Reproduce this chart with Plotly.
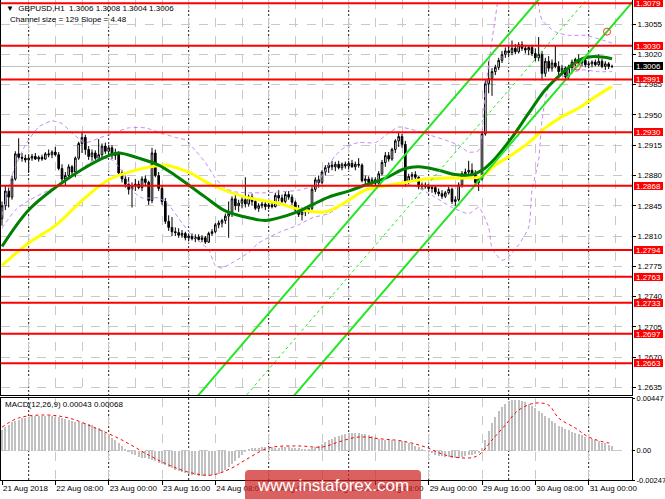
import plotly.graph_objects as go

# ---------------- DATA (prices x 10000) ----------------
bars = list(range(184))
opens = [12830,12845,12862,12855,12876,12905,12901,12900,12898,12900,
         12902,12899,12901,12899,12905,12904,12907,12904,12888,12876,
         12880,12890,12884,12900,12917,12924,12910,12902,12906,12900,
         12904,12914,12908,12912,12903,12906,12883,12876,12870,12864,
         12868,12870,12866,12876,12872,12851,12906,12880,12865,12850,
         12827,12820,12815,12814,12811,12813,12808,12810,12807,12809,
         12806,12808,12803,12813,12815,12823,12825,12828,12833,12836,
         12853,12845,12848,12852,12847,12855,12850,12842,12845,12847,
         12844,12846,12844,12857,12854,12850,12858,12855,12849,12840,
         12835,12838,12840,12842,12864,12875,12872,12884,12889,12892,
         12890,12893,12889,12893,12891,12894,12890,12893,12892,12874,
         12876,12872,12875,12871,12882,12895,12903,12899,12910,12920,
         12925,12916,12872,12879,12881,12878,12867,12869,12867,12865,
         12866,12861,12859,12856,12860,12864,12850,12852,12869,12882,
         12884,12886,12882,12872,12876,12928,12986,12992,13000,13005,
         13013,13020,13024,13022,13027,13023,13031,13027,13025,13028,
         13021,13016,13020,12998,13012,13004,13010,13006,13000,13004,
         12994,13005,13011,13014,13010,13013,13008,13009,13011,13008,
         13012,13006,13009,13006]
highs = [12850,12868,12866,12880,12908,12923,12906,12904,12903,12905,
         12906,12903,12904,12907,12910,12909,12913,12907,12893,12884,
         12893,12892,12902,12919,12930,12927,12914,12910,12909,12922,
         12917,12918,12915,12915,12911,12908,12886,12880,12878,12872,
         12876,12874,12879,12880,12874,12912,12910,12884,12868,12854,
         12834,12832,12820,12819,12817,12815,12813,12813,12812,12812,
         12811,12810,12815,12818,12825,12828,12830,12836,12850,12856,
         12858,12852,12855,12878,12858,12859,12852,12848,12850,12850,
         12849,12850,12860,12863,12858,12861,12862,12858,12851,12846,
         12843,12844,12845,12867,12878,12880,12886,12892,12895,12897,
         12896,12897,12895,12896,12897,12898,12896,12900,12894,12880,
         12879,12878,12878,12885,12898,12907,12907,12912,12922,12930,
         12928,12920,12882,12884,12885,12879,12872,12872,12870,12869,
         12868,12865,12863,12862,12867,12866,12856,12872,12885,12888,
         12897,12894,12886,12878,12930,12990,13012,13004,13008,13016,
         13024,13028,13029,13036,13032,13034,13035,13031,13030,13031,
         13027,13040,13024,13016,13018,13014,13030,13012,13008,13006,
         13008,13014,13016,13020,13016,13016,13012,13013,13014,13020,
         13015,13012,13011,13008]
lows = [12822,12840,12843,12852,12874,12898,12896,12895,12883,12897,
        12898,12896,12897,12898,12901,12900,12902,12886,12870,12868,
        12878,12880,12878,12898,12906,12904,12898,12897,12898,12898,
        12900,12905,12902,12899,12898,12880,12872,12866,12858,12843,
        12862,12864,12862,12868,12846,12848,12878,12862,12846,12824,
        12816,12810,12810,12808,12808,12805,12804,12805,12803,12804,
        12803,12801,12802,12810,12813,12819,12820,12824,12808,12832,
        12840,12838,12842,12843,12844,12845,12840,12838,12842,12840,
        12841,12842,12843,12850,12847,12848,12852,12846,12836,12832,
        12828,12833,12836,12840,12861,12866,12870,12880,12883,12886,
        12885,12887,12886,12888,12887,12889,12886,12889,12872,12870,
        12869,12869,12868,12869,12880,12890,12896,12897,12906,12913,
        12912,12867,12870,12874,12875,12864,12864,12865,12862,12860,
        12858,12856,12853,12854,12858,12847,12845,12850,12866,12878,
        12880,12879,12868,12862,12874,12926,12975,12972,12996,13002,
        13010,13016,13017,13019,13020,13021,13024,13021,13019,13018,
        13012,13012,12990,12994,13000,13000,13004,12996,12996,12990,
        12991,12998,13006,13008,13006,13005,13004,13005,13006,13006,
        13004,13002,13003,13004]
closes = [12845,12862,12855,12876,12905,12901,12900,12898,12900,12902,
          12899,12901,12899,12905,12904,12907,12904,12888,12876,12880,
          12890,12884,12900,12917,12924,12910,12902,12906,12900,12904,
          12914,12908,12912,12903,12906,12883,12876,12870,12864,12868,
          12870,12866,12876,12872,12851,12906,12880,12865,12850,12827,
          12820,12815,12814,12811,12813,12808,12810,12807,12809,12806,
          12808,12803,12813,12815,12823,12825,12828,12833,12836,12853,
          12845,12848,12852,12847,12855,12850,12842,12845,12847,12844,
          12846,12844,12857,12854,12850,12858,12855,12849,12840,12835,
          12838,12840,12842,12864,12875,12872,12884,12889,12892,12890,
          12893,12889,12893,12891,12894,12890,12893,12892,12874,12876,
          12872,12875,12871,12882,12895,12903,12899,12910,12920,12925,
          12916,12872,12879,12881,12878,12867,12869,12867,12865,12866,
          12861,12859,12856,12860,12864,12850,12852,12869,12882,12884,
          12886,12882,12872,12876,12928,12986,12992,13000,13005,13013,
          13020,13024,13022,13027,13023,13031,13027,13025,13028,13021,
          13016,13020,12998,13012,13004,13010,13006,13000,13004,12994,
          13005,13011,13014,13010,13013,13008,13009,13011,13008,13012,
          13006,13009,13006,13006]

green_ma_bars = [0, 8, 16, 24, 32, 35, 41, 47, 52, 56, 61, 67, 73, 79, 83, 88, 93, 98, 104,
                 109, 115, 121, 125, 131, 136, 141, 144, 148, 153, 158, 163, 168, 173, 176, 180, 183]
green_ma_vals = [12798, 12840, 12866, 12887, 12903, 12906, 12900, 12892, 12880, 12869, 12855,
                 12839, 12832, 12828, 12831, 12837, 12846, 12855, 12862, 12869, 12877, 12888,
                 12890, 12886, 12881, 12881, 12886, 12900, 12924, 12952, 12979, 12998, 13013,
                 13017, 13017, 13015]
yellow_ma_bars = [0, 8, 16, 24, 32, 40, 46, 49, 53, 56, 63, 73, 83, 88, 97, 103, 109, 115, 121,
                  127, 133, 139, 144, 148, 153, 158, 163, 168, 173, 178, 183]
yellow_ma_vals = [12776, 12802, 12822, 12851, 12875, 12886, 12891, 12892, 12888, 12884, 12869,
                  12855, 12848, 12842, 12838, 12849, 12863, 12868, 12872, 12876, 12877, 12877,
                  12879, 12892, 12904, 12918, 12935, 12948, 12958, 12971, 12983]
bb_up_bars = [0, 3, 7, 11, 15, 18, 21, 25, 29, 34, 38, 43, 47, 52, 55, 58, 61, 64, 67, 70, 74,
              79, 83, 89, 94, 97, 100, 103, 107, 112, 116, 119, 124, 128, 133, 137, 140, 143,
              145, 147, 149, 151, 154, 157, 160, 162, 166, 170, 175, 178, 183]
bb_up_vals = [12834, 12880, 12915, 12936, 12943, 12940, 12929, 12918, 12923, 12930, 12935,
              12935, 12930, 12924, 12921, 12909, 12895, 12877, 12865, 12861, 12860, 12860,
              12861, 12863, 12869, 12886, 12903, 12913, 12918, 12918, 12929, 12936, 12932,
              12927, 12921, 12915, 12907, 12909, 12979, 13036, 13090, 13170, 13200, 13150,
              13100, 13060, 13046, 13042, 13042, 13039, 13033]
bb_lo_bars = [0, 4, 8, 14, 20, 26, 29, 33, 37, 39, 42, 47, 50, 54, 57, 62, 64, 66, 69, 74, 77,
              83, 89, 93, 98, 102, 107, 113, 119, 123, 129, 135, 140, 143, 146, 147, 150, 152,
              155, 158, 159, 161, 162, 164, 168, 174, 179, 183]
bb_lo_vals = [12819, 12840, 12851, 12863, 12875, 12894, 12900, 12898, 12880, 12863, 12854,
              12854, 12846, 12825, 12811, 12794, 12776, 12773, 12779, 12791, 12802, 12814,
              12823, 12831, 12836, 12846, 12860, 12867, 12869, 12869, 12857, 12843, 12836,
              12843, 12820, 12796, 12782, 12786, 12800, 12820, 12863, 12898, 12944, 12982,
              12994, 13002, 13000, 13000]

# MACD main (histogram) x 1e-5
macd_hist = [180, 200, 220, 240, 255,
             265, 275, 282, 288, 292, 295, 297, 298, 298, 296, 293, 290, 286,
             280, 272, 262, 252, 245, 240, 238, 233, 226, 218,
             205, 190, 172, 153, 132, 110, 88, 64, 38, 12,
             -10, -25, -38, -50,
             -58, -62, -68, -78, -90, -100, -110,
             -122, -135, -148, -160, -172, -182, -190, -197, -203,
             -207, -210, -212, -213, -212, -208, -202,
             -192, -178, -160, -138, -112, -85, -58, -32,
             -10, 8, 20, 26,
             28, 30, 31, 30, 29, 28, 28, 30, 31, 30, 27, 24, 20, 18, 17, 18, 22, 30, 42, 56,
             72, 88, 103, 116, 127, 136, 143, 148, 151, 152, 150, 146, 140, 132, 122, 112, 100, 90,
             92, 90, 88, 86, 84, 80, 75, 68, 58, 45, 30, 15, 2,
             -10, -22, -32, -40, -46, -50, -54, -58, -60, -58, -52, -45, -38, -32, -28, -18,
             20, 95, 170, 235, 290, 335, 372, 400, 418, 428, 432, 430, 424, 414, 400, 382, 362,
             340, 318, 296, 274, 252, 232, 214, 198, 184, 172, 160, 150, 140, 130, 120, 110, 100,
             90, 80, 70, 62, 52, 43]
signal_bars = [0, 5, 13, 20, 28, 36, 44, 50, 57, 63, 69, 73, 80, 89, 96, 101, 107, 114, 120,
               127, 133, 140, 143, 147, 151, 155, 160, 164, 167, 172, 176, 182, 183]
signal_vals = [200, 278, 303, 278, 193, 91, -36, -120, -188, -205, -145, -78, 24, 41, 32, 75,
               117, 100, 83, 32, -36, -61, -36, 91, 218, 345, 404, 387, 277, 193, 117, 66, 68]

levels = [1.3079, 1.3030, 1.2991, 1.2930, 1.2868, 1.2794, 1.2763, 1.2733, 1.2697, 1.2663]
price_ticks = [1.3055, 1.3020, 1.2985, 1.2950, 1.2915, 1.2880, 1.2845, 1.2810, 1.2775,
               1.2740, 1.2705, 1.2670, 1.2635]
bid_price = 1.3006
# channel: lower line price at reference bar, slope per bar, size
channel_ref_bar = 130
channel_ref_price = 1.28155
channel_slope = 0.000448
channel_size = 0.0129
channel_bars = [50, 192]
channel_anchor_bars = [172.5, 181.5]

x_tick_bars = [0, 16, 32, 48, 64, 80, 96, 112, 128, 144, 160, 176]
x_tick_labels = ["21 Aug 2018", "22 Aug 08:00", "23 Aug 00:00", "23 Aug 16:00", "24 Aug 08:00",
                 "27 Aug 00:00", "27 Aug 16:00", "28 Aug 08:00", "29 Aug 00:00", "29 Aug 16:00",
                 "30 Aug 08:00", "31 Aug 00:00"]
day_sep_bars = [8, 32, 56, 80, 104, 128, 152, 176]
macd_ticks = [0.00447, 0.0, -0.00247]
macd_tick_labels = ["0.00447", "0.00", "-0.00247"]

assert len(opens) == len(highs) == len(lows) == len(closes) == len(bars) == len(macd_hist)

P = 1e-4
FONT = "Liberation Sans, Arial, sans-serif"
fig = go.Figure()

fig.add_trace(go.Candlestick(
    x=bars, open=[v * P for v in opens], high=[v * P for v in highs],
    low=[v * P for v in lows], close=[v * P for v in closes],
    increasing=dict(line=dict(color="black", width=1), fillcolor="white"),
    decreasing=dict(line=dict(color="black", width=1), fillcolor="black"),
    whiskerwidth=0, showlegend=False, hoverinfo="skip", xaxis="x", yaxis="y"))

for bx, bv in [(bb_up_bars, bb_up_vals), (bb_lo_bars, bb_lo_vals)]:
    fig.add_trace(go.Scatter(x=bx, y=[v * P for v in bv], mode="lines",
                             line=dict(color="#c58af0", width=1, dash="4px,3px", shape="spline", smoothing=0.6),
                             showlegend=False, hoverinfo="skip"))

fig.add_trace(go.Scatter(x=yellow_ma_bars, y=[v * P for v in yellow_ma_vals], mode="lines",
                         line=dict(color="#ffff00", width=3, shape="spline"), showlegend=False, hoverinfo="skip"))
fig.add_trace(go.Scatter(x=green_ma_bars, y=[v * P for v in green_ma_vals], mode="lines",
                         line=dict(color="#008000", width=3, shape="spline"), showlegend=False, hoverinfo="skip"))

def chan(b, off):
    return channel_ref_price + off + channel_slope * (b - channel_ref_bar)

for off, dash, w in [(0, "solid", 2), (channel_size / 2, "dot", 1), (channel_size, "solid", 2)]:
    fig.add_trace(go.Scatter(x=channel_bars, y=[chan(b, off) for b in channel_bars], mode="lines",
                             line=dict(color="#22e622", width=w, dash=dash), showlegend=False, hoverinfo="skip"))
fig.add_trace(go.Scatter(x=channel_anchor_bars, y=[chan(b, 0) for b in channel_anchor_bars], mode="markers",
                         marker=dict(symbol="circle-open", size=7, color="#ff3030", line=dict(width=1)),
                         showlegend=False, hoverinfo="skip"))

# MACD
fig.add_trace(go.Bar(x=bars, y=[v * 1e-5 for v in macd_hist], xaxis="x2", yaxis="y2",
                     marker=dict(color="#c0c0c0", line=dict(width=0)), width=0.6,
                     showlegend=False, hoverinfo="skip"))
fig.add_trace(go.Scatter(x=signal_bars, y=[v * 1e-5 for v in signal_vals], xaxis="x2", yaxis="y2",
                         mode="lines", line=dict(color="#ff0000", width=1, dash="dot", shape="spline"),
                         showlegend=False, hoverinfo="skip"))

shapes = []
for b in day_sep_bars:
    shapes.append(dict(type="line", xref="x", yref="paper", x0=b, x1=b, y0=0, y1=1,
                       line=dict(color="#222222", width=1, dash="2px,2px"), layer="below"))
shapes.append(dict(type="line", xref="paper", yref="y", x0=0, x1=1, y0=bid_price, y1=bid_price,
                   line=dict(color="#c0c0c0", width=1), layer="below"))
for lv in levels:
    shapes.append(dict(type="line", xref="paper", yref="y", x0=0, x1=1, y0=lv, y1=lv,
                       line=dict(color="#ff0000", width=2), layer="above"))

# watermark box (paper coords)
x0, x1, y0, y1 = 244 / 631, 420 / 631, -21 / 480, 10 / 480
rx, ry = 4 / 631, 4 / 480
path = (f"M {x0+rx},{y1} L {x1-rx},{y1} Q {x1},{y1} {x1},{y1-ry} L {x1},{y0} L {x0},{y0} "
        f"L {x0},{y1-ry} Q {x0},{y1} {x0+rx},{y1} Z")
shapes.append(dict(type="path", xref="paper", yref="paper", path=path,
                   fillcolor="rgba(205,35,35,0.72)", line=dict(width=0), layer="above"))

annotations = []
for lv in levels:
    annotations.append(dict(x=1, xref="paper", y=lv, yref="y", xanchor="left", yanchor="middle",
                            xshift=2, text=f"{lv:.4f}", showarrow=False, bgcolor="#ff0000",
                            font=dict(color="white", size=8, family=FONT), width=29, height=8,
                            borderpad=0, borderwidth=0))
annotations.append(dict(x=1, xref="paper", y=bid_price, yref="y", xanchor="left", yanchor="middle",
                        xshift=2, text=f"{bid_price:.4f}", showarrow=False, bgcolor="#000000",
                        font=dict(color="white", size=8, family=FONT), width=29, height=8,
                        borderpad=0, borderwidth=0))
annotations.append(dict(x=3 / 631, y=(480 - 8) / 480, xref="paper", yref="paper", xanchor="left",
                        yanchor="middle", showarrow=False,
                        text="\u25bc  GBPUSD,H1  1.3006 1.3008 1.3004 1.3006",
                        font=dict(size=8, color="black", family=FONT)))
annotations.append(dict(x=7 / 631, y=(480 - 20) / 480, xref="paper", yref="paper", xanchor="left",
                        yanchor="middle", showarrow=False, text="Channel size = 129 Slope = 4.48",
                        font=dict(size=8, color="black", family=FONT)))
annotations.append(dict(x=2 / 631, y=(480 - 404) / 480, xref="paper", yref="paper", xanchor="left",
                        yanchor="middle", showarrow=False, text="MACD(12,26,9) 0.00043 0.00068",
                        font=dict(size=8, color="black", family=FONT)))
annotations.append(dict(x=332 / 631, y=-5 / 480, xref="paper", yref="paper", xanchor="center",
                        yanchor="middle", showarrow=False, text="www.instaforex.com",
                        font=dict(size=17, color="white", family=FONT)))

xrange = [-0.3, 189.0]
axis_font = dict(size=8, color="black", family=FONT)
fig.update_layout(
    width=665, height=499, margin=dict(l=1, r=33, t=0, b=19, autoexpand=False),
    paper_bgcolor="white", plot_bgcolor="white", showlegend=False, bargap=0,
    xaxis=dict(domain=[0, 1], range=xrange, anchor="y", showticklabels=False, ticks="",
               showgrid=True, tick0=0, dtick=8, gridcolor="#c8c8c8", griddash="dash", gridwidth=1,
               showline=True, linecolor="black", linewidth=1, mirror=True, zeroline=False,
               automargin=False, rangeslider=dict(visible=False)),
    yaxis=dict(domain=[85 / 480, 1], range=[1.26263, 1.30828], side="right", automargin=False,
               tickvals=price_ticks, ticktext=[f"{t:.4f}" for t in price_ticks],
               ticks="outside", ticklen=3, tickcolor="black", tickfont=axis_font,
               showgrid=True, gridcolor="#c8c8c8", griddash="dash", gridwidth=1,
               showline=True, linecolor="black", linewidth=1, mirror=True, zeroline=False),
    xaxis2=dict(domain=[0, 1], range=xrange, anchor="y2", matches="x", automargin=False,
                tickvals=x_tick_bars, ticktext=x_tick_labels, ticks="outside", ticklen=4,
                tickangle=0, tickcolor="black", tickfont=axis_font, ticklabelposition="outside right",
                showgrid=True, tick0=0, dtick=8, gridcolor="#c8c8c8", griddash="dash",
                showline=True, linecolor="black", linewidth=1, mirror=True, zeroline=False),
    yaxis2=dict(domain=[0, 82 / 480], range=[-0.00247, 0.00447], side="right", anchor="x2",
                automargin=False,
                tickvals=macd_ticks, ticktext=macd_tick_labels, ticks="outside", ticklen=2,
                tickcolor="black", tickfont=dict(size=7.5, color="black", family=FONT),
                showgrid=True, gridcolor="#c8c8c8",
                griddash="dash", showline=True, linecolor="black", linewidth=1, mirror=True,
                zeroline=False),
    shapes=shapes, annotations=annotations,
)

fig.write_html("out.html", config={"displayModeBar": False},
               post_script="document.body.style.margin='0';document.body.style.overflow='hidden';")
